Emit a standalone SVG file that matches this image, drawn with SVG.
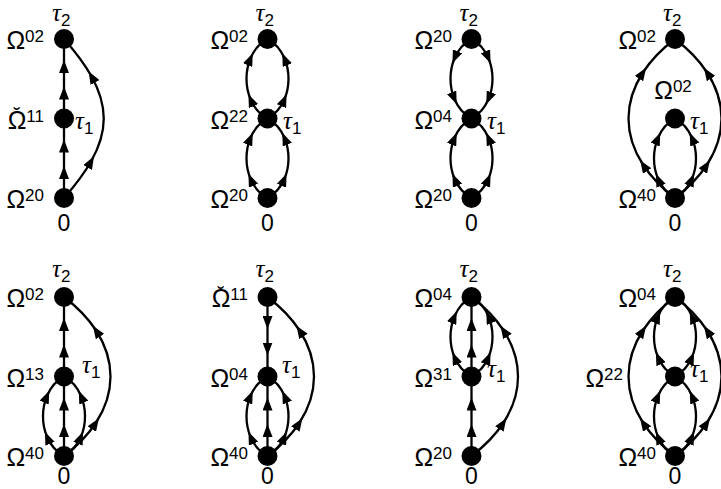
<svg xmlns="http://www.w3.org/2000/svg" width="721" height="489" viewBox="0 0 721 489">
<defs>
<marker id="ah" markerUnits="userSpaceOnUse" markerWidth="13" markerHeight="10" viewBox="0 0 13 10" refX="7.5" refY="5" orient="auto">
<path d="M0,0 L13,5 L0,10 z" fill="#000"/>
</marker>
</defs>
<style>
.e{fill:none;stroke:#000;stroke-width:2.3;marker-mid:url(#ah)}
.n{fill:#000}
.lab{font-family:"Liberation Sans",Arial,sans-serif;font-size:25px;fill:#000;text-anchor:end}
.c{text-anchor:middle}
.sup{font-size:17px}
.br{font-size:20px}
.tl{font-family:"Liberation Sans",Arial,sans-serif;font-size:17px;fill:#000}
.tau{font-family:"Liberation Serif","DejaVu Serif",serif;font-style:italic;font-size:25px}
.zero{font-family:"Liberation Sans",Arial,sans-serif;font-size:23px;text-anchor:middle;fill:#000}
</style>
<rect width="721" height="489" fill="#fff"/>
<g id="connectors">
<!-- D1 -->
<path class="e" transform="translate(64,198)" d="M0,0 L0,-26.5 L0,-53 L0,-79.5"/>
<path class="e" transform="translate(64,118.5)" d="M0,0 L0,-26.5 L0,-53 L0,-79.5"/>
<path class="e" transform="translate(64,198)" d="M0,0 C11.66,-13.2 20.75,-25.38 27.28,-37 C43.91,-66.56 43.91,-92.44 27.28,-122 C20.75,-133.62 11.66,-145.8 0,-159"/>
<!-- D2 -->
<path class="e" transform="translate(267.5,198)" d="M0,0 C7.84,-4.2 13.48,-11.1 16.93,-19.2 C22.36,-31.92 22.36,-47.58 16.93,-60.3 C13.48,-68.4 7.84,-75.3 0,-79.5"/>
<path class="e" transform="translate(267.5,198) scale(-1,1)" d="M0,0 C7.84,-4.2 13.48,-11.1 16.93,-19.2 C22.36,-31.92 22.36,-47.58 16.93,-60.3 C13.48,-68.4 7.84,-75.3 0,-79.5"/>
<path class="e" transform="translate(267.5,118.5)" d="M0,0 C7.84,-4.2 13.48,-11.1 16.93,-19.2 C22.36,-31.92 22.36,-47.58 16.93,-60.3 C13.48,-68.4 7.84,-75.3 0,-79.5"/>
<path class="e" transform="translate(267.5,118.5) scale(-1,1)" d="M0,0 C7.84,-4.2 13.48,-11.1 16.93,-19.2 C22.36,-31.92 22.36,-47.58 16.93,-60.3 C13.48,-68.4 7.84,-75.3 0,-79.5"/>
<!-- D3 -->
<path class="e" transform="translate(471.5,198)" d="M0,0 C7.84,-4.2 13.48,-11.1 16.93,-19.2 C22.36,-31.92 22.36,-47.58 16.93,-60.3 C13.48,-68.4 7.84,-75.3 0,-79.5"/>
<path class="e" transform="translate(471.5,198) scale(-1,1)" d="M0,0 C7.84,-4.2 13.48,-11.1 16.93,-19.2 C22.36,-31.92 22.36,-47.58 16.93,-60.3 C13.48,-68.4 7.84,-75.3 0,-79.5"/>
<path class="e" transform="translate(471.5,39) scale(1,-1)" d="M0,0 C7.84,-4.2 13.48,-11.1 16.93,-19.2 C22.36,-31.92 22.36,-47.58 16.93,-60.3 C13.48,-68.4 7.84,-75.3 0,-79.5"/>
<path class="e" transform="translate(471.5,39) scale(-1,-1)" d="M0,0 C7.84,-4.2 13.48,-11.1 16.93,-19.2 C22.36,-31.92 22.36,-47.58 16.93,-60.3 C13.48,-68.4 7.84,-75.3 0,-79.5"/>
<!-- D4 -->
<path class="e" transform="translate(675,198)" d="M0,0 C7.84,-4.2 13.48,-11.1 16.93,-19.2 C22.36,-31.92 22.36,-47.58 16.93,-60.3 C13.48,-68.4 7.84,-75.3 0,-79.5"/>
<path class="e" transform="translate(675,198) scale(-1,1)" d="M0,0 C7.84,-4.2 13.48,-11.1 16.93,-19.2 C22.36,-31.92 22.36,-47.58 16.93,-60.3 C13.48,-68.4 7.84,-75.3 0,-79.5"/>
<path class="e" transform="translate(675,198)" d="M0,0 C13.64,-10.34 24.28,-21.55 31.92,-33.25 C51.36,-63.03 51.36,-95.97 31.92,-125.75 C24.28,-137.45 13.64,-148.66 0,-159"/>
<path class="e" transform="translate(675,198) scale(-1,1)" d="M0,0 C13.64,-10.34 24.28,-21.55 31.92,-33.25 C51.36,-63.03 51.36,-95.97 31.92,-125.75 C24.28,-137.45 13.64,-148.66 0,-159"/>
<!-- D5 -->
<path class="e" transform="translate(64,456)" d="M0,0 L0,-26.5 L0,-53 L0,-79.5"/>
<path class="e" transform="translate(64,456)" d="M0,0 C7.84,-4.2 13.48,-11.1 16.93,-19.2 C22.36,-31.92 22.36,-47.58 16.93,-60.3 C13.48,-68.4 7.84,-75.3 0,-79.5"/>
<path class="e" transform="translate(64,456) scale(-1,1)" d="M0,0 C7.84,-4.2 13.48,-11.1 16.93,-19.2 C22.36,-31.92 22.36,-47.58 16.93,-60.3 C13.48,-68.4 7.84,-75.3 0,-79.5"/>
<path class="e" transform="translate(64,376.5)" d="M0,0 L0,-26.5 L0,-53 L0,-79.5"/>
<path class="e" transform="translate(64,456)" d="M0,0 C13.64,-10.34 24.28,-21.55 31.92,-33.25 C51.36,-63.03 51.36,-95.97 31.92,-125.75 C24.28,-137.45 13.64,-148.66 0,-159"/>
<!-- D6 -->
<path class="e" transform="translate(267.5,297) scale(1,-1)" d="M0,0 L0,-26.5 L0,-53 L0,-79.5"/>
<path class="e" transform="translate(267.5,456)" d="M0,0 L0,-26.5 L0,-53 L0,-79.5"/>
<path class="e" transform="translate(267.5,456)" d="M0,0 C7.84,-4.2 13.48,-11.1 16.93,-19.2 C22.36,-31.92 22.36,-47.58 16.93,-60.3 C13.48,-68.4 7.84,-75.3 0,-79.5"/>
<path class="e" transform="translate(267.5,456) scale(-1,1)" d="M0,0 C7.84,-4.2 13.48,-11.1 16.93,-19.2 C22.36,-31.92 22.36,-47.58 16.93,-60.3 C13.48,-68.4 7.84,-75.3 0,-79.5"/>
<path class="e" transform="translate(267.5,456)" d="M0,0 C13.64,-10.34 24.28,-21.55 31.92,-33.25 C51.36,-63.03 51.36,-95.97 31.92,-125.75 C24.28,-137.45 13.64,-148.66 0,-159"/>
<!-- D7 -->
<path class="e" transform="translate(471.5,456)" d="M0,0 L0,-26.5 L0,-53 L0,-79.5"/>
<path class="e" transform="translate(471.5,376.5)" d="M0,0 L0,-26.5 L0,-53 L0,-79.5"/>
<path class="e" transform="translate(471.5,376.5)" d="M0,0 C7.84,-4.2 13.48,-11.1 16.93,-19.2 C22.36,-31.92 22.36,-47.58 16.93,-60.3 C13.48,-68.4 7.84,-75.3 0,-79.5"/>
<path class="e" transform="translate(471.5,376.5) scale(-1,1)" d="M0,0 C7.84,-4.2 13.48,-11.1 16.93,-19.2 C22.36,-31.92 22.36,-47.58 16.93,-60.3 C13.48,-68.4 7.84,-75.3 0,-79.5"/>
<path class="e" transform="translate(471.5,456)" d="M0,0 C13.64,-10.34 24.28,-21.55 31.92,-33.25 C51.36,-63.03 51.36,-95.97 31.92,-125.75 C24.28,-137.45 13.64,-148.66 0,-159"/>
<!-- D8 -->
<path class="e" transform="translate(675,456)" d="M0,0 C7.84,-4.2 13.48,-11.1 16.93,-19.2 C22.36,-31.92 22.36,-47.58 16.93,-60.3 C13.48,-68.4 7.84,-75.3 0,-79.5"/>
<path class="e" transform="translate(675,456) scale(-1,1)" d="M0,0 C7.84,-4.2 13.48,-11.1 16.93,-19.2 C22.36,-31.92 22.36,-47.58 16.93,-60.3 C13.48,-68.4 7.84,-75.3 0,-79.5"/>
<path class="e" transform="translate(675,376.5)" d="M0,0 C7.84,-4.2 13.48,-11.1 16.93,-19.2 C22.36,-31.92 22.36,-47.58 16.93,-60.3 C13.48,-68.4 7.84,-75.3 0,-79.5"/>
<path class="e" transform="translate(675,376.5) scale(-1,1)" d="M0,0 C7.84,-4.2 13.48,-11.1 16.93,-19.2 C22.36,-31.92 22.36,-47.58 16.93,-60.3 C13.48,-68.4 7.84,-75.3 0,-79.5"/>
<path class="e" transform="translate(675,456)" d="M0,0 C13.64,-10.34 24.28,-21.55 31.92,-33.25 C51.36,-63.03 51.36,-95.97 31.92,-125.75 C24.28,-137.45 13.64,-148.66 0,-159"/>
<path class="e" transform="translate(675,456) scale(-1,1)" d="M0,0 C13.64,-10.34 24.28,-21.55 31.92,-33.25 C51.36,-63.03 51.36,-95.97 31.92,-125.75 C24.28,-137.45 13.64,-148.66 0,-159"/>
</g>

<!-- D1 nodes -->
<g id="d1-top"><circle class="n" cx="64" cy="39" r="10"/><text class="lab" x="44" y="49">Ω<tspan class="sup" dy="-7">02</tspan></text><text class="tl" x="52" y="21"><tspan class="tau">τ</tspan><tspan dy="5">2</tspan></text></g>
<g id="d1-mid"><circle class="n" cx="64" cy="118.5" r="10"/><text class="lab" x="44" y="128.5">Ω<tspan class="br" dx="-12.7" dy="-6.5">˘</tspan><tspan class="sup" dx="6" dy="-0.5">11</tspan></text><text class="tl" x="75" y="128.5"><tspan class="tau">τ</tspan><tspan dy="5">1</tspan></text></g>
<g id="d1-bot"><circle class="n" cx="64" cy="198" r="10"/><text class="lab" x="44" y="208">Ω<tspan class="sup" dy="-7">20</tspan></text><text class="zero" x="64" y="231">0</text></g>
<!-- D2 -->
<g id="d2-top"><circle class="n" cx="267.5" cy="39" r="10"/><text class="lab" x="248" y="49">Ω<tspan class="sup" dy="-7">02</tspan></text><text class="tl" x="255.5" y="21"><tspan class="tau">τ</tspan><tspan dy="5">2</tspan></text></g>
<g id="d2-mid"><circle class="n" cx="267.5" cy="118.5" r="10"/><text class="lab" x="248" y="128.5">Ω<tspan class="sup" dy="-7">22</tspan></text><text class="tl" x="283" y="128.5"><tspan class="tau">τ</tspan><tspan dy="5">1</tspan></text></g>
<g id="d2-bot"><circle class="n" cx="267.5" cy="198" r="10"/><text class="lab" x="248" y="208">Ω<tspan class="sup" dy="-7">20</tspan></text><text class="zero" x="267.5" y="231">0</text></g>
<!-- D3 -->
<g id="d3-top"><circle class="n" cx="471.5" cy="39" r="10"/><text class="lab" x="452" y="49">Ω<tspan class="sup" dy="-7">20</tspan></text><text class="tl" x="459.5" y="21"><tspan class="tau">τ</tspan><tspan dy="5">2</tspan></text></g>
<g id="d3-mid"><circle class="n" cx="471.5" cy="118.5" r="10"/><text class="lab" x="452" y="128.5">Ω<tspan class="sup" dy="-7">04</tspan></text><text class="tl" x="487" y="128.5"><tspan class="tau">τ</tspan><tspan dy="5">1</tspan></text></g>
<g id="d3-bot"><circle class="n" cx="471.5" cy="198" r="10"/><text class="lab" x="452" y="208">Ω<tspan class="sup" dy="-7">20</tspan></text><text class="zero" x="471.5" y="231">0</text></g>
<!-- D4 -->
<g id="d4-top"><circle class="n" cx="675" cy="39" r="10"/><text class="lab" x="656" y="49">Ω<tspan class="sup" dy="-7">02</tspan></text><text class="tl" x="663" y="21"><tspan class="tau">τ</tspan><tspan dy="5">2</tspan></text></g>
<g id="d4-mid"><circle class="n" cx="675" cy="118.5" r="10"/><text class="lab c" x="673" y="99">Ω<tspan class="sup" dy="-7">02</tspan></text><text class="tl" x="690" y="128.5"><tspan class="tau">τ</tspan><tspan dy="5">1</tspan></text></g>
<g id="d4-bot"><circle class="n" cx="675" cy="198" r="10"/><text class="lab" x="656" y="208">Ω<tspan class="sup" dy="-7">40</tspan></text><text class="zero" x="675" y="231">0</text></g>
<!-- D5 -->
<g id="d5-top"><circle class="n" cx="64" cy="297" r="10"/><text class="lab" x="44" y="307">Ω<tspan class="sup" dy="-7">02</tspan></text><text class="tl" x="52" y="277"><tspan class="tau">τ</tspan><tspan dy="5">2</tspan></text></g>
<g id="d5-mid"><circle class="n" cx="64" cy="376.5" r="10"/><text class="lab" x="44" y="386.5">Ω<tspan class="sup" dy="-7">13</tspan></text><text class="tl" x="82" y="373"><tspan class="tau">τ</tspan><tspan dy="5">1</tspan></text></g>
<g id="d5-bot"><circle class="n" cx="64" cy="456" r="10"/><text class="lab" x="44" y="466">Ω<tspan class="sup" dy="-7">40</tspan></text><text class="zero" x="64" y="484">0</text></g>
<!-- D6 -->
<g id="d6-top"><circle class="n" cx="267.5" cy="297" r="10"/><text class="lab" x="248" y="307">Ω<tspan class="br" dx="-12.7" dy="-6.5">˘</tspan><tspan class="sup" dx="6" dy="-0.5">11</tspan></text><text class="tl" x="255.5" y="277"><tspan class="tau">τ</tspan><tspan dy="5">2</tspan></text></g>
<g id="d6-mid"><circle class="n" cx="267.5" cy="376.5" r="10"/><text class="lab" x="248" y="386.5">Ω<tspan class="sup" dy="-7">04</tspan></text><text class="tl" x="282" y="373"><tspan class="tau">τ</tspan><tspan dy="5">1</tspan></text></g>
<g id="d6-bot"><circle class="n" cx="267.5" cy="456" r="10"/><text class="lab" x="248" y="466">Ω<tspan class="sup" dy="-7">40</tspan></text><text class="zero" x="267.5" y="484">0</text></g>
<!-- D7 -->
<g id="d7-top"><circle class="n" cx="471.5" cy="297" r="10"/><text class="lab" x="452" y="307">Ω<tspan class="sup" dy="-7">04</tspan></text><text class="tl" x="459.5" y="277"><tspan class="tau">τ</tspan><tspan dy="5">2</tspan></text></g>
<g id="d7-mid"><circle class="n" cx="471.5" cy="376.5" r="10"/><text class="lab" x="452" y="386.5">Ω<tspan class="sup" dy="-7">31</tspan></text><text class="tl" x="487" y="377"><tspan class="tau">τ</tspan><tspan dy="5">1</tspan></text></g>
<g id="d7-bot"><circle class="n" cx="471.5" cy="456" r="10"/><text class="lab" x="452" y="466">Ω<tspan class="sup" dy="-7">20</tspan></text><text class="zero" x="471.5" y="484">0</text></g>
<!-- D8 -->
<g id="d8-top"><circle class="n" cx="675" cy="297" r="10"/><text class="lab" x="656" y="307">Ω<tspan class="sup" dy="-7">04</tspan></text><text class="tl" x="663" y="277"><tspan class="tau">τ</tspan><tspan dy="5">2</tspan></text></g>
<g id="d8-mid"><circle class="n" cx="675" cy="376.5" r="10"/><text class="lab" x="623" y="386.5">Ω<tspan class="sup" dy="-7">22</tspan></text><text class="tl" x="690" y="377"><tspan class="tau">τ</tspan><tspan dy="5">1</tspan></text></g>
<g id="d8-bot"><circle class="n" cx="675" cy="456" r="10"/><text class="lab" x="656" y="466">Ω<tspan class="sup" dy="-7">40</tspan></text><text class="zero" x="675" y="484">0</text></g>
</svg>
